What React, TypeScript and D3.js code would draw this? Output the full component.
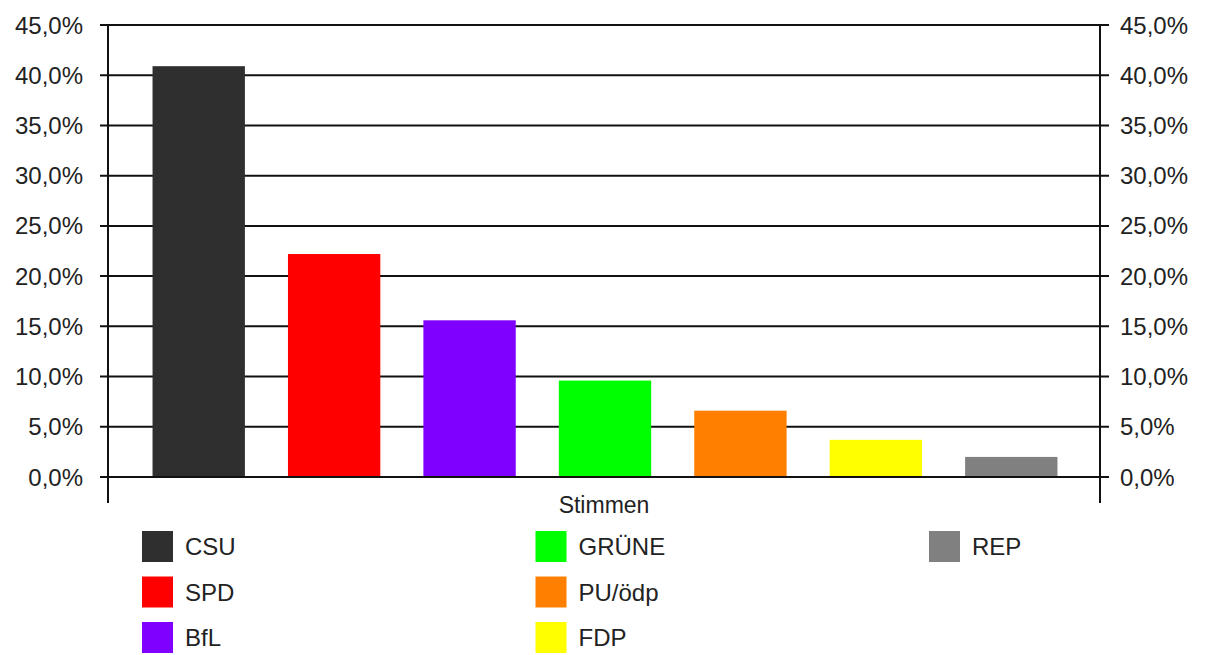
import * as d3 from "d3";

// party results, Stimmen in %
const parties = ["CSU", "SPD", "BfL", "GRÜNE", "PU/ödp", "FDP", "REP"];
const shares = [40.9, 22.2, 15.6, 9.6, 6.6, 3.7, 2.0];
const partyColors = ["#2f2f2f", "#ff0000", "#8000ff", "#00ff00", "#ff8000", "#ffff00", "#808080"];
const yTicks = [0, 5, 10, 15, 20, 25, 30, 35, 40, 45];
const xTitle = "Stimmen";

const W = 1205;
const H = 655;
const font = "'Liberation Sans', Arial, sans-serif";

const fmt = (v: number) => d3.format(".1f")(v).replace(".", ",") + "%";

export default function App() {
  const y = d3.scaleLinear().domain([0, 45]).range([477, 25]);
  const x = d3
    .scaleBand<string>()
    .domain(parties)
    .range([131, 1079])
    .paddingInner(0.318)
    .paddingOuter(0.159);

  const axisL = 108;
  const axisR = 1100;

  // legend grid: 3 rows, filled column by column
  const legCol = d3.scaleLinear().domain([0, 1]).range([142, 535.5]);
  const legRow = d3.scaleLinear().domain([0, 1]).range([531, 576.5]);

  return (
    <div style={{ position: "absolute", left: 0, top: 0 }}>
      <svg width={W} height={H} style={{ display: "block", background: "#fff" }} fontFamily={font}>
        {/* gridlines + ticks */}
        {yTicks.map((t) => (
          <line
            key={"g" + t}
            x1={axisL - 8}
            x2={axisR + 9}
            y1={y(t)}
            y2={y(t)}
            stroke="#111"
            strokeWidth={2}
          />
        ))}

        {/* bars */}
        {parties.map((p, i) => (
          <rect
            key={p}
            x={x(p)}
            y={y(shares[i])}
            width={x.bandwidth()}
            height={y(0) - y(shares[i])}
            fill={partyColors[i]}
          />
        ))}

        {/* zero line on top of bars */}
        <line x1={axisL - 8} x2={axisR + 9} y1={y(0)} y2={y(0)} stroke="#111" strokeWidth={2} />

        {/* vertical axes */}
        <line x1={axisL} x2={axisL} y1={y(45)} y2={503} stroke="#111" strokeWidth={2} />
        <line x1={axisR} x2={axisR} y1={y(45)} y2={503} stroke="#111" strokeWidth={2} />

        {/* tick labels */}
        {yTicks.map((t) => (
          <g key={"l" + t} fontSize={24} fill="#222">
            <text x={83} y={y(t) + 8.5} textAnchor="end">
              {fmt(t)}
            </text>
            <text x={1120} y={y(t) + 8.5} textAnchor="start">
              {fmt(t)}
            </text>
          </g>
        ))}

        <text x={(axisL + axisR) / 2 + 0} y={513} textAnchor="middle" fontSize={23} fill="#222">
          {xTitle}
        </text>

        {/* legend */}
        {parties.map((p, i) => {
          const lx = legCol(Math.floor(i / 3));
          const ly = legRow(i % 3);
          return (
            <g key={"leg" + p}>
              <rect x={lx} y={ly} width={31} height={31} fill={partyColors[i]} />
              <text x={lx + 43} y={ly + 24} fontSize={24} fill="#222">
                {p}
              </text>
            </g>
          );
        })}
      </svg>
    </div>
  );
}
